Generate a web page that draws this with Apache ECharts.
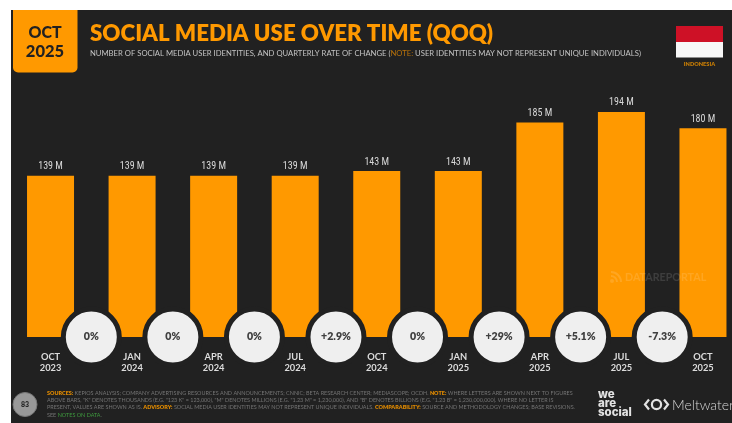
<!DOCTYPE html>
<html>
<head>
<meta charset="utf-8">
<style>
html,body{margin:0;padding:0;background:#fff;}
#chart{width:732px;height:423px;}
</style>
<script src="https://cdn.jsdelivr.net/npm/echarts@6/dist/echarts.min.js"></script>
</head>
<body>
<div id="chart"></div>
<script>
// Social media user identities per quarter, in millions
const quarters = ['OCT\n2023','JAN\n2024','APR\n2024','JUL\n2024','OCT\n2024','JAN\n2025','APR\n2025','JUL\n2025','OCT\n2025'];
const users = [139,139,139,139,143,143,185,194,180];
const changes = ['0%','0%','0%','+2.9%','0%','+29%','+5.1%','-7.3%'];

const ORANGE = '#FF9900';
const DARK = '#212121';
const HEAD = '"Lato","Open Sans",sans-serif';
const NARROW = '"Liberation Sans Narrow","Roboto Condensed","Liberation Sans",sans-serif';

const footerLines = [
  '{o|SOURCES:} KEPIOS ANALYSIS; COMPANY ADVERTISING RESOURCES AND ANNOUNCEMENTS; CNNIC; BETA RESEARCH CENTER; MEDIASCOPE; OCDH. {o|NOTE:} WHERE LETTERS ARE SHOWN NEXT TO FIGURES',
  'ABOVE BARS, "K" DENOTES THOUSANDS (E.G. "123 K" = 123,000), "M" DENOTES MILLIONS (E.G. "1.23 M" = 1,230,000), AND "B" DENOTES BILLIONS (E.G. "1.23 B" = 1,230,000,000). WHERE NO LETTER IS',
  'PRESENT, VALUES ARE SHOWN AS IS. {o|ADVISORY:} SOCIAL MEDIA USER IDENTITIES MAY NOT REPRESENT UNIQUE INDIVIDUALS. {o|COMPARABILITY:} SOURCE AND METHODOLOGY CHANGES; BASE REVISIONS.',
  'SEE {g|NOTES ON DATA}.'
];

const chart = echarts.init(document.getElementById('chart'), null, {renderer:'canvas'});
const T = (x,y,text,font,fill,extra) => ({type:'text',x,y,silent:true,z:20,style:Object.assign({text,font,fill,textVerticalAlign:'middle'},extra||{})});
const mark = 'rgba(255,255,255,0.13)';
const logo = '#E2E2E2';

chart.setOption({
  animation:false,
  backgroundColor:'#fff',
  grid:{left:9.75,width:734,top:105,height:232,outerBoundsMode:'none'},
  xAxis:[
    {type:'category',data:quarters,axisLine:{show:false},axisTick:{show:false},
     axisLabel:{color:'#DCDCDC',fontFamily:HEAD,fontWeight:700,fontSize:9.3,lineHeight:11,margin:14,interval:0}},
    {type:'value',min:0,max:9,show:false}
  ],
  yAxis:{type:'value',min:0,max:200,show:false},
  series:[
    {type:'bar',data:users,barWidth:47,xAxisIndex:0,z:3,
     itemStyle:{color:ORANGE},
     label:{show:true,position:'top',distance:4,color:'#D8D8D8',fontFamily:NARROW,fontSize:10,
            formatter:p=>p.value+' M'}},
    {type:'scatter',xAxisIndex:1,clip:false,z:5,symbol:'circle',symbolSize:56,
     data:changes.map((c,i)=>({value:[i+1,0],name:c})),
     itemStyle:{color:'#EFEFEF',borderColor:DARK,borderWidth:5,opacity:1},
     label:{show:true,position:'inside',formatter:p=>p.name,color:'#404040',
            fontFamily:HEAD,fontWeight:800,fontSize:10.6}}
  ],
  graphic:[
    {type:'rect',z:-10,silent:true,shape:{x:11,y:10,width:721,height:413},style:{fill:DARK}},
    {type:'rect',z:10,silent:true,shape:{x:13,y:10,width:64.5,height:62.5,r:[0,0,5,5]},style:{fill:ORANGE}},
    T(45,33,'OCT','900 16px '+HEAD,DARK,{textAlign:'center'}),
    T(45,52,'2025','900 16.5px '+HEAD,DARK,{textAlign:'center'}),
    T(90,34,'SOCIAL MEDIA USE OVER TIME (QOQ)','800 22.3px '+HEAD,ORANGE),
    {type:'text',x:90,y:54,z:20,silent:true,style:{
      text:'NUMBER OF SOCIAL MEDIA USER IDENTITIES, AND QUARTERLY RATE OF CHANGE ({n|NOTE:} USER IDENTITIES MAY NOT REPRESENT UNIQUE INDIVIDUALS)',
      font:'400 7.68px '+HEAD,fill:'#C4C4C4',textVerticalAlign:'middle',
      rich:{n:{fill:'#B8720A',font:'400 7.68px '+HEAD}}}},
    {type:'rect',z:10,silent:true,shape:{x:676,y:26,width:47,height:16},style:{fill:'#CE1126'}},
    {type:'rect',z:10,silent:true,shape:{x:676,y:42,width:47,height:15.5},style:{fill:'#F7F7F7'}},
    T(699.5,64.5,'INDONESIA','800 5.6px '+HEAD,'#C67C05',{textAlign:'center'}),
    // watermark sits over the bars
    {type:'circle',z:20,silent:true,shape:{cx:612,cy:281,r:2},style:{fill:mark}},
    {type:'arc',z:20,silent:true,shape:{cx:611,cy:282,r:6,startAngle:-Math.PI/2,endAngle:0},style:{fill:'none',stroke:mark,lineWidth:2}},
    {type:'arc',z:20,silent:true,shape:{cx:611,cy:282,r:10,startAngle:-Math.PI/2,endAngle:0},style:{fill:'none',stroke:mark,lineWidth:2}},
    T(625,278,'DATAREPORTAL','700 10.7px '+HEAD,mark),
    {type:'circle',z:10,silent:true,shape:{cx:25,cy:404.5,r:12},style:{fill:'#999',stroke:'#777',lineWidth:1}},
    T(25,405,'83','800 7px '+HEAD,'#2a2a2a',{textAlign:'center'}),
    ...footerLines.map((line,i)=>({type:'text',x:47,y:393+i*7.35,z:20,silent:true,style:{
      text:line,font:'400 5.46px '+HEAD,fill:'#747474',textVerticalAlign:'middle',
      rich:{o:{fill:'#E08A00',font:'800 5.46px '+HEAD},g:{fill:'#3E9A3E',font:'400 5.46px '+HEAD,textDecoration:'underline'}}}})),
    T(598,395,'we','800 11.5px Inter,'+HEAD,logo),
    T(598,404,'are','800 11.5px Inter,'+HEAD,logo),
    T(598,413,'social','800 11.5px Inter,'+HEAD,logo),
    {type:'circle',z:20,silent:true,shape:{cx:656.5,cy:404.5,r:4.6},style:{fill:'none',stroke:logo,lineWidth:2.2}},
    {type:'polyline',z:20,silent:true,shape:{points:[[649,399.5],[645,404.5],[649,409.5]]},style:{fill:'none',stroke:logo,lineWidth:2.2}},
    {type:'polyline',z:20,silent:true,shape:{points:[[664,399.5],[668,404.5],[664,409.5]]},style:{fill:'none',stroke:logo,lineWidth:2.2}},
    T(672,405,'Meltwater','300 14px '+HEAD,'#D6D6D6')
  ]
});
</script>
</body>
</html>
